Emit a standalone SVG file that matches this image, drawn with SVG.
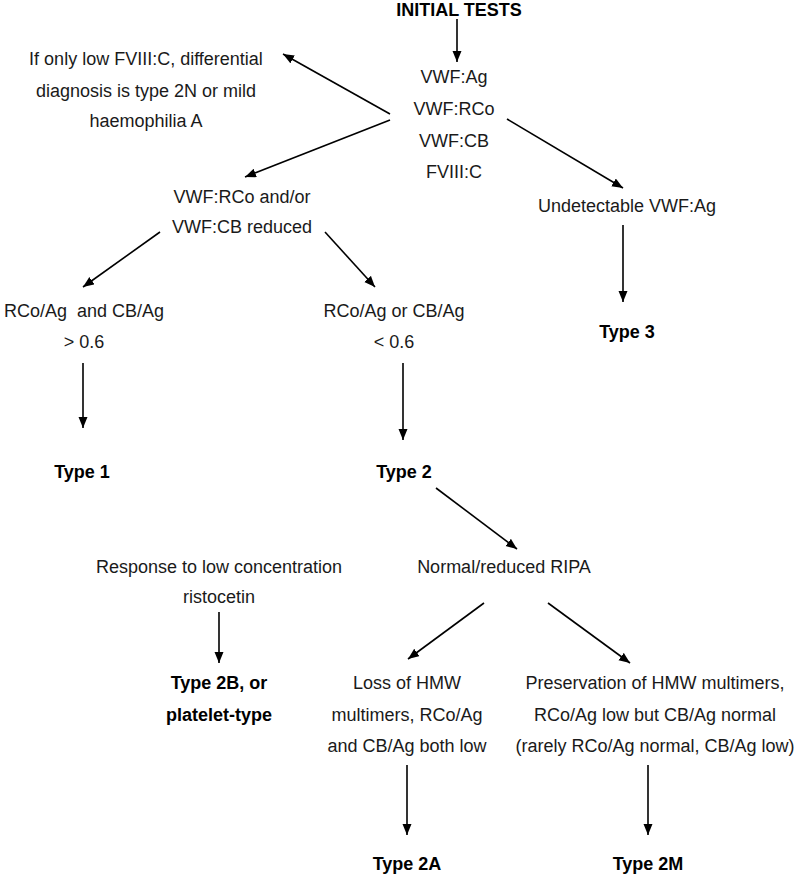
<svg xmlns="http://www.w3.org/2000/svg" width="800" height="879" viewBox="0 0 800 879">
<style>
text{font-family:"Liberation Sans",Arial,sans-serif;font-size:18px;fill:#1a1a1a;text-anchor:middle}
.b{font-weight:bold;fill:#000}
.pre{white-space:pre}
.c line{stroke:#000;stroke-width:1.6;marker-end:url(#ah)}
</style>
<defs>
<marker id="ah" markerUnits="userSpaceOnUse" markerWidth="12" markerHeight="10" refX="11" refY="4.5" orient="auto">
<path d="M0,0 L11,4.5 L0,9 z" fill="#000"/>
</marker>
</defs>
<rect width="800" height="879" fill="#fff"/>
<g class="c" id="connectors">
<line x1="457" y1="19" x2="457" y2="62"/>
<line x1="390" y1="114" x2="283" y2="54"/>
<line x1="390" y1="120" x2="245" y2="177"/>
<line x1="507" y1="119" x2="623" y2="188"/>
<line x1="623" y1="225" x2="623" y2="302"/>
<line x1="160" y1="232" x2="83" y2="287"/>
<line x1="325" y1="232" x2="375" y2="287"/>
<line x1="83" y1="363" x2="83" y2="428"/>
<line x1="403" y1="363" x2="403" y2="440"/>
<line x1="436" y1="488" x2="517" y2="549"/>
<line x1="219" y1="612" x2="219" y2="663"/>
<line x1="484" y1="603" x2="408" y2="659"/>
<line x1="548" y1="603" x2="630" y2="663"/>
<line x1="407" y1="765" x2="407" y2="835"/>
<line x1="648" y1="765" x2="648" y2="835"/>
</g>
<g id="initial"><text class="b" x="459" y="16">INITIAL TESTS</text></g>
<g id="tests">
<text x="454" y="83">VWF:Ag</text>
<text x="454" y="115">VWF:RCo</text>
<text x="454" y="147">VWF:CB</text>
<text x="454" y="178">FVIII:C</text>
</g>
<g id="diff">
<text x="146" y="65">If only low FVIII:C, differential</text>
<text x="146" y="97">diagnosis is type 2N or mild</text>
<text x="146" y="127">haemophilia A</text>
</g>
<g id="reduced">
<text x="242" y="203">VWF:RCo and/or</text>
<text x="242" y="233">VWF:CB reduced</text>
</g>
<g id="undetectable"><text x="627" y="212">Undetectable VWF:Ag</text></g>
<g id="type3"><text class="b" x="627" y="338">Type 3</text></g>
<g id="ratioHigh">
<text class="pre" x="84" y="317" xml:space="preserve">RCo/Ag  and CB/Ag</text>
<text x="84" y="348">&gt; 0.6</text>
</g>
<g id="ratioLow">
<text x="394" y="317">RCo/Ag or CB/Ag</text>
<text x="394" y="348">&lt; 0.6</text>
</g>
<g id="type1"><text class="b" x="82" y="478">Type 1</text></g>
<g id="type2"><text class="b" x="404" y="478">Type 2</text></g>
<g id="ripa"><text x="504" y="573">Normal/reduced RIPA</text></g>
<g id="response">
<text x="219" y="573">Response to low concentration</text>
<text x="219" y="603">ristocetin</text>
</g>
<g id="type2b">
<text class="b" x="219" y="689">Type 2B, or</text>
<text class="b" x="219" y="721">platelet-type</text>
</g>
<g id="loss">
<text x="407" y="689">Loss of HMW</text>
<text x="407" y="721">multimers, RCo/Ag</text>
<text x="407" y="752">and CB/Ag both low</text>
</g>
<g id="preservation">
<text x="655" y="689">Preservation of HMW multimers,</text>
<text x="655" y="721">RCo/Ag low but CB/Ag normal</text>
<text x="655" y="752">(rarely RCo/Ag normal, CB/Ag low)</text>
</g>
<g id="type2a"><text class="b" x="407" y="870">Type 2A</text></g>
<g id="type2m"><text class="b" x="648" y="870">Type 2M</text></g>
</svg>
